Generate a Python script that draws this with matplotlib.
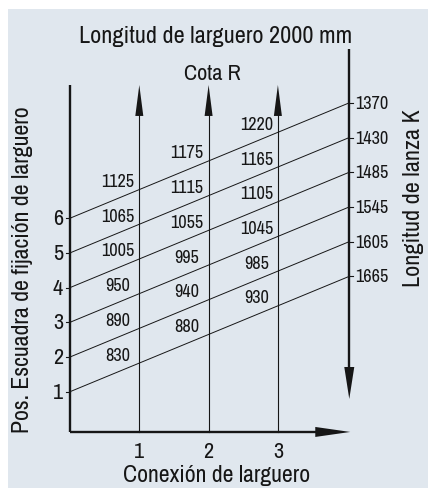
import matplotlib
matplotlib.use("Agg")
import matplotlib.pyplot as plt
from matplotlib import font_manager as fm
from matplotlib.patches import Polygon, Rectangle

# ---- data ----
positions = [1, 2, 3, 4, 5, 6]              # Pos. Escuadra (left axis)
connections = [1, 2, 3]                      # Conexión de larguero
lanza_k = [1665, 1605, 1545, 1485, 1430, 1370]   # right axis labels, for positions 1..6
cota_col1 = [830, 890, 950, 1005, 1065, 1125]
cota_col2 = [880, 940, 995, 1055, 1115, 1175]
cota_col3 = [930, 985, 1045, 1105, 1165, 1220]
cota_cols = [cota_col1, cota_col2, cota_col3]

title = "Longitud de larguero 2000 mm"
subtitle = "Cota R"
xlabel = "Conexión de larguero"
ylabel = "Pos. Escuadra de fijación de larguero"
rlabel = "Longitud de lanza K"

# ---- font: prefer a narrow / condensed sans if installed ----
FAM = ['Liberation Sans', 'DejaVu Sans']
for f in fm.fontManager.ttflist:
    nm = f.name
    if ('Narrow' in nm or 'Condensed' in nm) and f.weight in (400, 'normal', 'regular') \
            and f.style == 'normal' and 'Mono' not in nm and 'Serif' not in nm:
        FAM = [nm, 'Liberation Sans', 'DejaVu Sans']
        break

# ---- geometry / style ----
W, H = 428, 489
X0PX, XUNIT = 70.0, 69.3
Y0PX, YUNIT = 427.4, 34.7
SLOPE = 0.825
XR = 4.03
YB = -0.16
YTOP = 9.84
INK = '#161616'
BG = '#e0e7ee'

fig = plt.figure(figsize=(W / 100, H / 100), dpi=100)
fig.patch.set_facecolor('white')
fig.add_artist(Rectangle((8 / W, 0), 1 - 8 / W, 1 - 10 / H, transform=fig.transFigure,
                         facecolor=BG, edgecolor='none', zorder=0))
renderer = fig.canvas.get_renderer()

ax = fig.add_axes([0, 0, 1, 1])
ax.set_xlim(-X0PX / XUNIT, (W - X0PX) / XUNIT)
ax.set_ylim((Y0PX - H) / YUNIT, Y0PX / YUNIT)
ax.axis('off')
ax.patch.set_alpha(0)

dx = 1 / XUNIT   # one pixel in x data
dy = 1 / YUNIT   # one pixel in y data


def fit(t, target, vertical=False):
    bb = t.get_window_extent(renderer)
    w = bb.height if vertical else bb.width
    t.set_fontsize(t.get_fontsize() * target / w)
    return t.get_fontsize()


# measure sizes for small numbers and tick digits
probe = fig.text(0, 0, "1175", fontsize=12, family=FAM, fontweight='light')
NUM_FS = fit(probe, 33)
probe.remove()
probe = fig.text(0, 0, "2", fontsize=12, family=FAM)
TICK_FS = min(fit(probe, 10.5), 16)
probe.remove()

# left axis
ax.plot([0, 0], [YB, YTOP], color=INK, lw=1.7, solid_capstyle='butt')
# bottom axis with arrow
ax.plot([0, XR - 30 * dx], [YB, YB], color=INK, lw=1.7, solid_capstyle='butt')
ax.add_patch(Polygon([[XR - 34 * dx, YB + 5 * dy], [XR + 1 * dx, YB], [XR - 34 * dx, YB - 5 * dy]],
                     closed=True, color=INK, lw=0))

# vertical arrows at connections
for c in connections:
    ax.plot([c, c], [YB, YTOP - 25 * dy], color=INK, lw=0.8)
    ax.add_patch(Polygon([[c - 4 * dx, YTOP - 31 * dy], [c, YTOP], [c + 4 * dx, YTOP - 31 * dy]],
                         closed=True, color=INK, lw=0))

# right axis (downward arrow)
r_top = (Y0PX - 50) / YUNIT
r_tip = (Y0PX - 400) / YUNIT
ax.plot([XR, XR], [r_top, r_tip + 28 * dy], color=INK, lw=1.7, solid_capstyle='butt')
ax.add_patch(Polygon([[XR - 5 * dx, r_tip + 32 * dy], [XR, r_tip], [XR + 5 * dx, r_tip + 32 * dy]],
                     closed=True, color=INK, lw=0))

# sloped lines, ticks and labels
for k, lab in zip(positions, lanza_k):
    y_end = k + SLOPE * XR
    ax.plot([0, XR], [k, y_end], color=INK, lw=0.7)
    ax.plot([-4 * dx, 0], [k, k], color=INK, lw=0.8)
    ax.plot([XR, XR + 4 * dx], [y_end, y_end], color=INK, lw=0.8)
    ax.text(XR + 6 * dx, y_end, str(lab), fontsize=NUM_FS, family=FAM, fontweight='light',
            color=INK, ha='left', va='center')
    ax.text(-7 * dx, k, str(k), fontsize=TICK_FS, family=FAM, color=INK, ha='right', va='center')

for ci, col in enumerate(cota_cols):
    xc = ci + 0.69
    for k, v in zip(positions, col):
        ax.text(xc, k + SLOPE * xc + 0.5, str(v), fontsize=NUM_FS, family=FAM, fontweight='light',
                color=INK, ha='center', va='center')

for c in connections:
    ax.text(c, (Y0PX - 458) / YUNIT, str(c), fontsize=TICK_FS, family=FAM, color=INK,
            ha='center', va='baseline')


# titles / labels (figure pixel positions)
def fx(px):
    return px / W


def fy(py):
    return 1 - py / H


t1 = fig.text(fx(216), fy(43), title, fontsize=17, family=FAM, color=INK, ha='center', va='baseline')
TITLE_FS = fit(t1, 272)
t2 = fig.text(fx(212), fy(80), subtitle, fontsize=TITLE_FS * 0.92, family=FAM, color=INK,
              ha='center', va='baseline')
t3 = fig.text(fx(217), fy(482), xlabel, fontsize=17, family=FAM, color=INK, ha='center', va='baseline')
fit(t3, 187)
t4 = fig.text(fx(23), fy(270), ylabel, fontsize=17, family=FAM, color=INK, ha='center', va='center',
              rotation=90)
fit(t4, 327, vertical=True)
t5 = fig.text(fx(413), fy(198), rlabel, fontsize=17, family=FAM, color=INK, ha='center', va='center',
              rotation=90)
fit(t5, 177, vertical=True)

fig.savefig('out.png', dpi=100, facecolor=fig.get_facecolor())
